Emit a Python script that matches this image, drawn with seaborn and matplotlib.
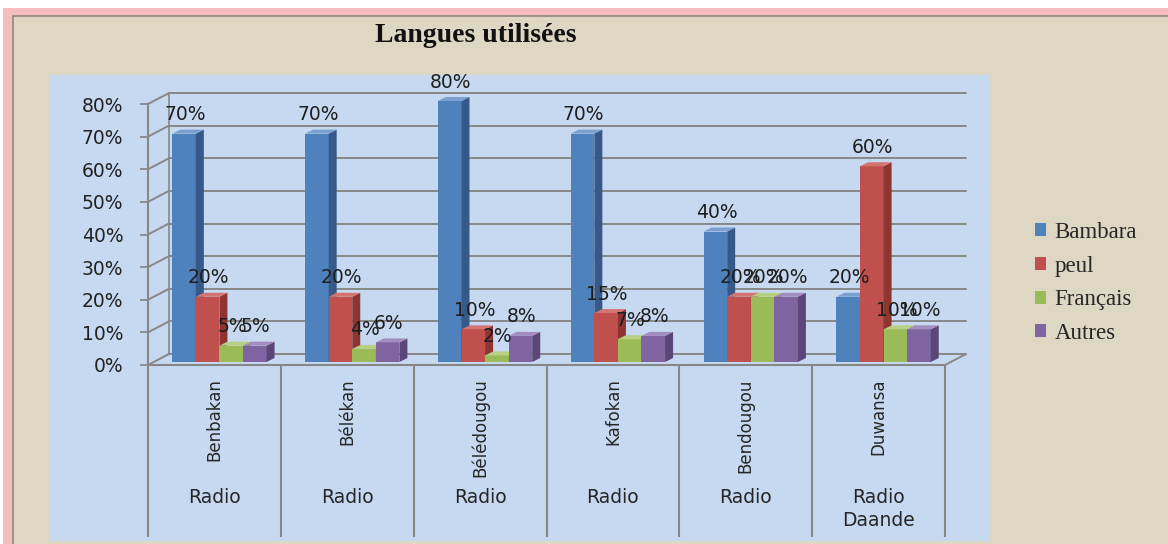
import numpy as np
import pandas as pd
import matplotlib
matplotlib.use("Agg")
import matplotlib.pyplot as plt
import seaborn as sns
from matplotlib.patches import Rectangle, Polygon
from matplotlib.transforms import offset_copy

# ---- data ----
stations = ["Benbakan", "Bélékan", "Bélédougou", "Kafokan", "Bendougou", "Duwansa"]
groupes = ["Radio", "Radio", "Radio", "Radio", "Radio", "Radio\nDaande"]
langues = ["Bambara", "peul", "Français", "Autres"]
bambara = [70, 70, 80, 70, 40, 20]
peul = [20, 20, 10, 15, 20, 60]
francais = [5, 4, 2, 7, 20, 10]
autres = [5, 6, 8, 8, 20, 10]
yticks = [0, 10, 20, 30, 40, 50, 60, 70, 80]
titre = "Langues utilisées"

couleurs = ["#4F81BD", "#C0504D", "#9BBB59", "#8064A2"]
cotes = ["#36598A", "#8E3532", "#6F8A3C", "#5B4678"]
dessus = ["#7BA0D0", "#D47572", "#B8D083", "#A38CC0"]

rows = []
for lang, vals in zip(langues, [bambara, peul, francais, autres]):
    for st, v in zip(stations, vals):
        rows.append({"station": st, "langue": lang, "valeur": v})
df = pd.DataFrame(rows)

W, H = 1168, 544
sns.set_theme(style="white")
plt.rcParams['font.family'] = ['DejaVu Sans']

fig = plt.figure(figsize=(W / 100, H / 100), dpi=100, facecolor="white")


def fx(px):
    return px / W


def fy(py):
    return 1 - py / H


# background frames
fig.patches.append(Rectangle((fx(3), fy(H + 10)), (W + 20) / W, (H + 2) / H,
                             transform=fig.transFigure, facecolor="#F5BDBD",
                             edgecolor="none", zorder=-3))
fig.patches.append(Rectangle((fx(13), fy(H + 10)), (W + 20) / W, (H - 6) / H,
                             transform=fig.transFigure, facecolor="#DDD7C3",
                             edgecolor="#8E8880", linewidth=1.2, zorder=-2))
fig.patches.append(Rectangle((fx(50), fy(541)), 940 / W, 466 / H,
                             transform=fig.transFigure, facecolor="#C6D9F0",
                             edgecolor="none", zorder=-1))

ax = fig.add_axes([148 / W, 1 - 365 / H, 797 / W, 261 / H])
ax.set_zorder(2)
ax.patch.set_alpha(0)

sns.barplot(data=df, x="station", y="valeur", hue="langue", hue_order=langues,
            palette=couleurs, width=0.71, saturation=1, ax=ax, legend=False,
            linewidth=0, edgecolor="none")

ax.set_xlim(-0.5, 5.5)
ax.set_ylim(0, 80)

ppx = 797 / 6.0
ppy = 261 / 80.0
gc = "#878787"

# 3D-like back wall grid
gdx, gdy = 21 / ppx, 11 / ppy
for v in yticks:
    ax.plot([-0.5 + gdx, 5.5 + gdx], [v + gdy, v + gdy], color=gc, lw=1.4,
            clip_on=False, zorder=1)
    ax.plot([-0.5, -0.5 + gdx], [v, v + gdy], color=gc, lw=1.4,
            clip_on=False, zorder=1)
ax.plot([-0.5 + gdx, -0.5 + gdx], [gdy, 80 + gdy], color=gc, lw=1.2,
        clip_on=False, zorder=1)
ax.plot([5.5, 5.5 + gdx], [0, gdy], color=gc, lw=1.4, clip_on=False, zorder=1)

# bars with depth
off = offset_copy(ax.transData, fig=fig, x=5, y=3, units="dots")
ddx, ddy = 8 / ppx, 4 / ppy
for k, cont in enumerate(ax.containers):
    for bar in cont:
        x, w, h = bar.get_x(), bar.get_width(), bar.get_height()
        bar.set_transform(off)
        bar.set_zorder(3 + k * 0.1)
        bar.set_clip_on(False)
        side = Polygon([(x + w, 0), (x + w, h), (x + w + ddx, h + ddy), (x + w + ddx, ddy)],
                       closed=True, facecolor=cotes[k], edgecolor="none",
                       transform=off, zorder=3 + k * 0.1 + 0.05, clip_on=False)
        top = Polygon([(x, h), (x + w, h), (x + w + ddx, h + ddy), (x + ddx, h + ddy)],
                      closed=True, facecolor=dessus[k], edgecolor="none",
                      transform=off, zorder=3 + k * 0.1 + 0.05, clip_on=False)
        ax.add_patch(side)
        ax.add_patch(top)
        ax.annotate(f"{int(round(h))}%", xy=(x + w / 2, h), xycoords="data",
                    xytext=(6, 22), textcoords="offset pixels", ha="center",
                    va="center", fontsize=13.5, color="#1E1E1E", zorder=6,
                    annotation_clip=False)

# axes styling
for s in ["top", "right"]:
    ax.spines[s].set_visible(False)
for s in ["left", "bottom"]:
    ax.spines[s].set_color(gc)
    ax.spines[s].set_linewidth(1.5)
ax.set_yticks(yticks)
ax.set_yticklabels([f"{v}%" for v in yticks])
ax.tick_params(axis="y", length=5.8, width=1.3, color=gc, pad=12,
               labelsize=13.5, labelcolor="#222222", left=True)
ax.set_xticks(range(len(stations)))
ax.set_xticklabels(stations, rotation=90, va="top", ha="center",
                   fontsize=12, color="#262626")
ax.tick_params(axis="x", length=0, pad=9.5)
ax.set_xlabel("")
ax.set_ylabel("")

# category separators and group labels
ax.vlines([i - 0.5 for i in range(len(stations) + 1)], (365 - 537) / 261, 0,
          transform=ax.get_xaxis_transform(), color=gc, lw=1.5, clip_on=False)
for i, g in enumerate(groupes):
    ax.text(i, (365 - 488) / 261, g, transform=ax.get_xaxis_transform(),
            ha="center", va="top", fontsize=13.5, color="#262626",
            linespacing=1.3)

# legend
handles = [Rectangle((0, 0), 1, 1, facecolor=c, edgecolor="none") for c in couleurs]
fig.legend(handles, langues, loc="center left", bbox_to_anchor=(fx(1035), fy(283)),
           frameon=False, prop={"family": "Liberation Serif", "size": 16.5},
           handlelength=0.5, handleheight=0.5, handletextpad=0.35,
           labelspacing=0.55, borderpad=0, borderaxespad=0)

fig.text(fx(476), fy(35), titre, ha="center", va="center",
         family="Liberation Serif", weight="bold", size=20, color="#111111")

fig.savefig("out.png", dpi=100, facecolor=fig.get_facecolor())
